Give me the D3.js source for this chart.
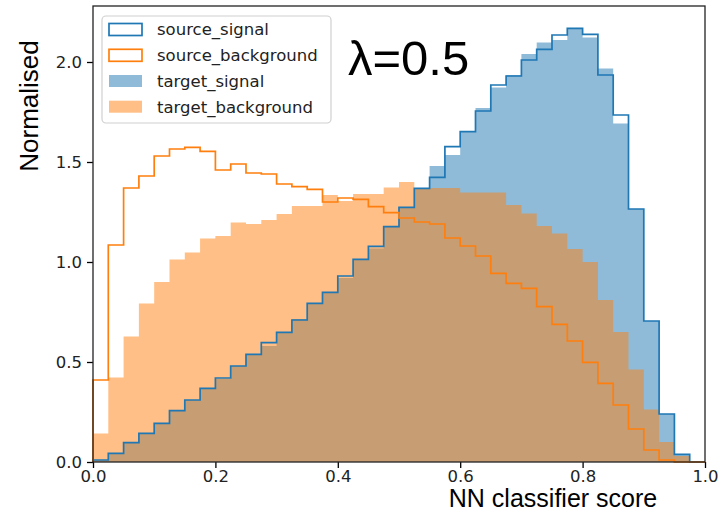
<!DOCTYPE html>
<html>
<head>
<meta charset="utf-8">
<script src="https://cdn.jsdelivr.net/npm/d3@7"></script>
<style>
  html, body { margin: 0; padding: 0; background: #fff; }
  svg { display: block; }
</style>
</head>
<body>
<svg id="chart" width="721" height="513"></svg>
<script>
// 40 equal-width bins over the classifier score range [0, 1]
const binEdges = d3.range(41).map(i => i / 40);

const sourceSignal = [
  0.01, 0.043, 0.097, 0.143, 0.193, 0.257, 0.31, 0.368, 0.42, 0.48,
  0.538, 0.597, 0.648, 0.71, 0.793, 0.848, 0.93, 1.013, 1.078, 1.177,
  1.273, 1.368, 1.423, 1.577, 1.652, 1.755, 1.885, 1.93, 2.01, 2.063,
  2.135, 2.168, 2.138, 1.935, 1.735, 1.265, 0.705, 0.24, 0.038, 0
];
const sourceBackground = [
  0.41, 1.085, 1.37, 1.43, 1.53, 1.565, 1.573, 1.553, 1.46, 1.49,
  1.445, 1.44, 1.39, 1.377, 1.363, 1.30, 1.32, 1.313, 1.277, 1.247,
  1.22, 1.20, 1.19, 1.12, 1.08, 1.03, 0.943, 0.893, 0.868, 0.777,
  0.688, 0.605, 0.498, 0.393, 0.285, 0.165, 0.06, 0.01, 0, 0
];
const targetSignal = [
  0.01, 0.045, 0.10, 0.14, 0.195, 0.26, 0.31, 0.37, 0.415, 0.48,
  0.535, 0.58, 0.645, 0.715, 0.79, 0.85, 0.92, 1.01, 1.068, 1.18,
  1.27, 1.37, 1.48, 1.535, 1.652, 1.77, 1.873, 1.935, 2.04, 2.097,
  2.11, 2.168, 2.123, 1.968, 1.693, 1.265, 0.705, 0.24, 0.04, 0
];
const targetBackground = [
  0.143, 0.423, 0.627, 0.793, 0.90, 1.013, 1.048, 1.118, 1.13, 1.197,
  1.19, 1.21, 1.24, 1.28, 1.28, 1.335, 1.305, 1.34, 1.34, 1.372,
  1.40, 1.37, 1.37, 1.37, 1.347, 1.347, 1.347, 1.285, 1.243, 1.18,
  1.143, 1.065, 1.00, 0.81, 0.65, 0.463, 0.263, 0.10, 0.03, 0
];

const xTicks = [0, 0.2, 0.4, 0.6, 0.8, 1.0];
const yTicks = [0, 0.5, 1.0, 1.5, 2.0];
const legendLabels = ["source_signal", "source_background", "target_signal", "target_background"];

const blue = "#1f77b4";
const orange = "#ff7f0e";

const svg = d3.select("#chart");
const margin = { left: 93, right: 16, top: 6, bottom: 51 };
const W = 721, H = 513;

const x = d3.scaleLinear().domain([0, 1]).range([margin.left, W - margin.right]);
const y = d3.scaleLinear().domain([0, 2.28]).range([H - margin.bottom, margin.top]);

// points for step curves: one per bin start plus closing edge
function stepPoints(vals) {
  const pts = vals.map((v, i) => [binEdges[i], v]);
  pts.push([binEdges[vals.length], vals[vals.length - 1]]);
  return pts;
}

const area = d3.area()
  .curve(d3.curveStepAfter)
  .x(d => x(d[0]))
  .y0(y(0))
  .y1(d => y(d[1]));

// filled histograms
svg.append("path")
  .attr("d", area(stepPoints(targetSignal)))
  .attr("fill", blue).attr("fill-opacity", 0.5);
svg.append("path")
  .attr("d", area(stepPoints(targetBackground)))
  .attr("fill", orange).attr("fill-opacity", 0.5);

// outline histograms
function outlinePoints(vals) {
  const pts = [[binEdges[0], 0]];
  vals.forEach((v, i) => { pts.push([binEdges[i], v]); pts.push([binEdges[i + 1], v]); });
  pts.push([binEdges[vals.length], 0]);
  return pts;
}
const line = d3.line().x(d => x(d[0])).y(d => y(d[1]));

svg.append("path")
  .attr("d", line(outlinePoints(sourceSignal)))
  .attr("fill", "none").attr("stroke", blue).attr("stroke-width", 1.7)
  .attr("stroke-linejoin", "miter");
svg.append("path")
  .attr("d", line(outlinePoints(sourceBackground)))
  .attr("fill", "none").attr("stroke", orange).attr("stroke-width", 1.7)
  .attr("stroke-linejoin", "miter");

// axes
const tickFont = "DejaVu Sans";
const xAxis = d3.axisBottom(x).tickValues(xTicks).tickFormat(d3.format(".1f")).tickSizeOuter(0).tickSize(6).tickPadding(2);
const yAxis = d3.axisLeft(y).tickValues(yTicks).tickFormat(d3.format(".1f")).tickSizeOuter(0).tickSize(6).tickPadding(5);

const gx = svg.append("g").attr("transform", `translate(0,${y(0)})`).call(xAxis);
const gy = svg.append("g").attr("transform", `translate(${x(0)},0)`).call(yAxis);
[gx, gy].forEach(g => {
  g.select(".domain").remove();
  g.selectAll(".tick line").attr("stroke", "#000").attr("stroke-width", 1.3);
  g.selectAll(".tick text").attr("font-family", tickFont).attr("font-size", 16.5).attr("fill", "#222");
});

// frame
svg.append("rect")
  .attr("x", x(0)).attr("y", y(2.28))
  .attr("width", x(1) - x(0)).attr("height", y(0) - y(2.28))
  .attr("fill", "none").attr("stroke", "#222").attr("stroke-width", 1.3);

// axis titles
svg.append("text")
  .attr("transform", `translate(38,106) rotate(-90)`)
  .attr("text-anchor", "middle")
  .attr("font-family", "Liberation Sans, Arial, sans-serif")
  .attr("font-size", 26)
  .attr("fill", "#000")
  .text("Normalised");

svg.append("text")
  .attr("x", 553).attr("y", 507)
  .attr("text-anchor", "middle")
  .attr("font-family", "Liberation Sans, Arial, sans-serif")
  .attr("font-size", 25)
  .attr("fill", "#000")
  .text("NN classifier score");

svg.append("text")
  .attr("x", 348).attr("y", 75)
  .attr("font-family", "Liberation Sans, Arial, sans-serif")
  .attr("font-size", 49)
  .attr("fill", "#000")
  .text("λ=0.5");

// legend
const legend = svg.append("g");
legend.append("rect")
  .attr("x", 102).attr("y", 16).attr("width", 229).attr("height", 107)
  .attr("rx", 4).attr("fill", "#fff").attr("fill-opacity", 0.8)
  .attr("stroke", "#d0d0d0").attr("stroke-width", 1.2);

const legendStyles = [
  { fill: "#fff", fillOpacity: 1, stroke: blue },
  { fill: "#fff", fillOpacity: 1, stroke: orange },
  { fill: blue, fillOpacity: 0.5, stroke: "none" },
  { fill: orange, fillOpacity: 0.5, stroke: "none" }
];
const rowY = [29.5, 55.3, 81, 106.7];
legendLabels.forEach((label, i) => {
  const st = legendStyles[i];
  legend.append("rect")
    .attr("x", 109).attr("y", rowY[i] - 6).attr("width", 33).attr("height", 12)
    .attr("fill", st.fill).attr("fill-opacity", st.fillOpacity)
    .attr("stroke", st.stroke).attr("stroke-width", st.stroke === "none" ? 0 : 1.7);
  legend.append("text")
    .attr("x", 157).attr("y", rowY[i]).attr("dy", "0.36em")
    .attr("font-family", tickFont).attr("font-size", 16.5).attr("fill", "#222")
    .text(label);
});
</script>
</body>
</html>
